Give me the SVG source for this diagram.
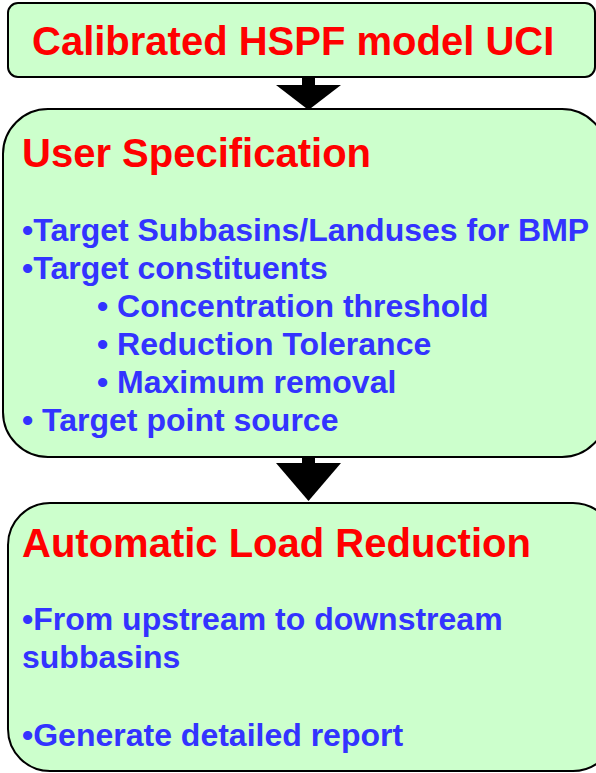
<svg xmlns="http://www.w3.org/2000/svg" width="596" height="773" viewBox="0 0 596 773">
  <style>
    .box { fill: #CCFFCC; stroke: #000; stroke-width: 2; }
    .title { font-family: "Liberation Sans", Arial, sans-serif; font-weight: bold; font-size: 40px; fill: #FF0000; }
    .item { font-family: "Liberation Sans", Arial, sans-serif; font-weight: bold; font-size: 32px; fill: #3333FF; }
    .arrow { fill: #000; }
  </style>
  <rect width="596" height="773" fill="#FFFFFF"/>

  <g id="connectors">
    <rect class="arrow" x="302" y="76" width="13" height="10"/>
    <polygon class="arrow" points="276,85 341,85 308.5,110"/>
    <rect class="arrow" x="302" y="456" width="13" height="8"/>
    <polygon class="arrow" points="276,463 341,463 308.5,501"/>
  </g>

  <g id="uci">
    <rect class="box" x="8" y="3" width="587" height="74" rx="10"/>
    <text class="title" x="32" y="55">Calibrated HSPF model UCI</text>
  </g>

  <g id="user-spec">
    <rect class="box" x="3" y="109" width="604" height="348" rx="45"/>
    <text class="title" x="22" y="167">User Specification</text>
    <text class="item" x="22" y="241">•Target Subbasins/Landuses for BMP</text>
    <text class="item" x="22" y="279">•Target constituents</text>
    <text class="item" x="97" y="317">• Concentration threshold</text>
    <text class="item" x="97" y="355">• Reduction Tolerance</text>
    <text class="item" x="97" y="393">• Maximum removal</text>
    <text class="item" x="22" y="431">• Target point source</text>
  </g>

  <g id="load-reduction">
    <rect class="box" x="8" y="503" width="607" height="268" rx="42"/>
    <text class="title" x="22" y="557">Automatic Load Reduction</text>
    <text class="item" x="22" y="630">•From upstream to downstream</text>
    <text class="item" x="22" y="668">subbasins</text>
    <text class="item" x="22" y="746">•Generate detailed report</text>
  </g>
</svg>
